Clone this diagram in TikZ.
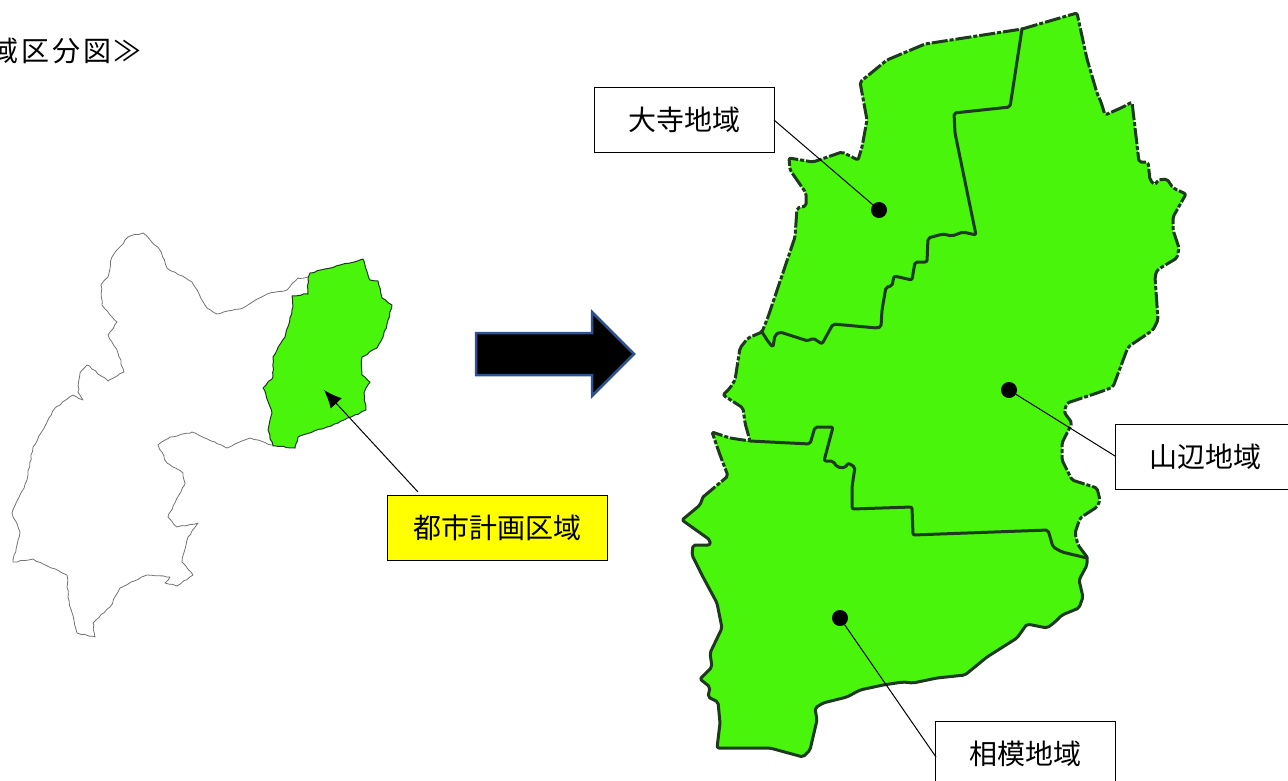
\documentclass[tikz,border=0pt]{standalone}
\usepackage{fontspec}
\setmainfont{Noto Sans CJK JP}
\usetikzlibrary{arrows.meta,decorations.pathmorphing}
\definecolor{mapgreen}{HTML}{48F50B}
\definecolor{mapline}{HTML}{1E3A1C}
\definecolor{arrowline}{HTML}{2F528F}
\definecolor{notice}{HTML}{FFFF00}
\tikzset{
  label box/.style={draw=black,line width=1pt,fill=white,minimum width=180pt,minimum height=65pt,inner sep=0pt,outer sep=0pt,font=\fontsize{28}{32}\selectfont},
  plain text/.style={inner sep=0pt,outer sep=0pt,font=\fontsize{28}{32}\selectfont},
  pin dot/.style={circle,fill=black,minimum size=16pt,inner sep=0pt,outer sep=0pt},
  leader/.style={line width=1pt,draw=black},
  border solid/.style={line width=3pt,draw=mapline,line join=round,line cap=round,rounded corners=2pt},
  border dashed/.style={line width=3pt,draw=mapline,line join=round,rounded corners=2pt,dash pattern=on 16pt off 2pt on 4pt off 2pt},
  rough/.style={decorate,decoration={random steps,segment length=4pt,amplitude=.7pt}},
}
\def\pA{(1022,29) -- (1077,13) -- (1085,50) -- (1087,59) -- (1097,93) -- (1101,102) -- (1105,115) -- (1123,107) -- (1132,102) -- (1139,162) -- (1148,162) -- (1150,180) -- (1155,185) -- (1158,180) -- (1167,179) -- (1173,188) -- (1186,194) -- (1173,217) -- (1173,230) -- (1179,248) -- (1177,258) -- (1157,270) -- (1155,277) -- (1158,320) -- (1153,330) -- (1128,347) -- (1113,387) -- (1100,392) -- (1067,403) -- (1064,412) -- (1072,423) -- (1062,443) -- (1062,460) -- (1072,480) -- (1097,488) -- (1100,500) -- (1097,507) -- (1080,518) -- (1075,533) -- (1078,545) -- (1087,557)}
\def\pB{-- (1087,565) -- (1079,580) -- (1083,597) -- (1079,608) -- (1062,615) -- (1055,622) -- (1047,628) -- (1027,624) -- (1017,638) -- (987,657) -- (965,675) -- (937,678) -- (913,683) -- (903,682) -- (883,685) -- (860,690) -- (847,697) -- (823,703) -- (815,708) -- (817,720) -- (810,750) -- (803,757) -- (770,748) -- (717,748) -- (720,723) -- (718,702) -- (708,697) -- (710,687) -- (700,679) -- (712,667) -- (710,653) -- (722,628) -- (717,603) -- (703,577) -- (692,555) -- (693,545) -- (710,545) -- (710,540) -- (682,520) -- (700,505) -- (703,497)}
\def\pC{-- (728,476) -- (720,455) -- (712,432) -- (730,438) -- (750,441) -- (745,423) -- (743,408) -- (723,395) -- (730,388) -- (735,380) -- (740,348) -- (748,338) -- (762,332) -- (768,317) -- (795,237) -- (797,208) -- (806,206) -- (806,193) -- (790,170) -- (789,158) -- (813,162) -- (842,152) -- (858,160) -- (862,147) -- (867,120) -- (860,82) -- (887,60) -- (925,44) -- (1022,29)}
\begin{document}
\begin{tikzpicture}[x=1pt,y=-1pt]
\useasboundingbox (0,0) rectangle (1288,780);
% wide-area outline
\draw[line width=.8pt,draw=black!55,line join=round,rough] (308,277) -- (298,278) -- (287,290) -- (267,294) -- (240,309) -- (217,314) -- (207,308) -- (192,282) -- (167,268) -- (160,250) -- (143,233) -- (128,237) -- (112,257) -- (108,277) -- (101,285) -- (102,305) -- (117,322) -- (108,335) -- (118,353) -- (124,372) -- (108,381) -- (87,365) -- (80,373) -- (78,392) -- (83,400) -- (73,395) -- (55,408) -- (33,447) -- (27,480) -- (12,513) -- (20,532) -- (13,562) -- (33,559) -- (67,575) -- (68,597) -- (77,633) -- (95,637) -- (93,623) -- (110,607) -- (120,588) -- (147,575) -- (170,577) -- (165,583) -- (177,586) -- (193,575) -- (182,562) -- (188,537) -- (198,523) -- (177,527) -- (168,517) -- (185,483) -- (183,473) -- (167,463) -- (158,445) -- (170,437) -- (192,432) -- (227,448) -- (250,438) -- (272,445);
% small planning area
\draw[line width=1pt,draw=mapline,fill=mapgreen,line join=round,rough] (310,273) -- (363,259) -- (370,280) -- (378,281) -- (382,298) -- (392,305) -- (388,320) -- (383,337) -- (377,348) -- (362,357) -- (362,375) -- (370,382) -- (364,393) -- (366,410) -- (338,423) -- (298,437) -- (295,448) -- (273,446) -- (268,430) -- (272,413) -- (263,388) -- (273,377) -- (273,357) -- (285,337) -- (293,307) -- (292,296) -- (308,294) -- (308,278) -- cycle;
% large map
\fill[mapgreen,rounded corners=2pt] \pA \pB \pC -- cycle;
\draw[border dashed] \pA;
\draw[border solid] (1087,557) \pB;
\draw[border dashed] (703,497) \pC;
\draw[border solid] (1022,29) -- (1010,107) -- (954,113) -- (955,133) -- (976,235) -- (963,232) -- (952,236) -- (943,234) -- (928,238) -- (927,262) -- (915,262) -- (912,280) -- (894,276) -- (892,286) -- (886,287) -- (882,310) -- (881,327) -- (877,328) -- (833,324) -- (822,344) -- (813,338) -- (808,341) -- (780,332) -- (775,335) -- (773,347) -- (769,343) -- (762,332);
\draw[border solid] (750,441) -- (810,444) -- (815,427) -- (833,427) -- (824,461) -- (833,461) -- (837,467) -- (845,468) -- (848,463) -- (855,467) -- (852,487) -- (852,509) -- (912,507) -- (913,535) -- (1048,530) -- (1053,547) -- (1062,552) -- (1087,558);
% block arrow
\draw[line width=2.5pt,draw=arrowline,fill=black,line join=miter] (476,333) -- (592,333) -- (592,312) -- (634,354) -- (592,396) -- (592,375) -- (476,375) -- cycle;
% heading
\node[plain text,anchor=east] (heading) at (142,51) {\addfontfeatures{LetterSpace=10}域区分図≫};
% pins
\node[pin dot] (otera dot) at (879,210) {};
\node[pin dot] (yamabe dot) at (1009,390) {};
\node[pin dot] (sagami dot) at (840,618) {};
% boxes
\node[label box] (otera) at (684,120) {大寺地域};
\node[label box] (yamabe) at (1205,456.5) {山辺地域};
\node[label box] (sagami) at (1025.5,753.5) {相模地域};
\node[label box,fill=notice,minimum width=220pt] (toshi) at (497,527.5) {都市計画区域};
\coordinate (arrow tip) at (324,390);
\coordinate (arrow tail) at (418,492);
\coordinate (otera end) at (774,120);
\coordinate (yamabe end) at (1115,456);
\coordinate (sagami end) at (936,757);
\draw[leader] (otera end) -- (otera dot);
\draw[leader] (yamabe end) -- (yamabe dot);
\draw[leader] (sagami end) -- (sagami dot);
\draw[leader,-{Latex[length=18pt,width=15pt]}] (arrow tail) -- (arrow tip);
\end{tikzpicture}
\end{document}
